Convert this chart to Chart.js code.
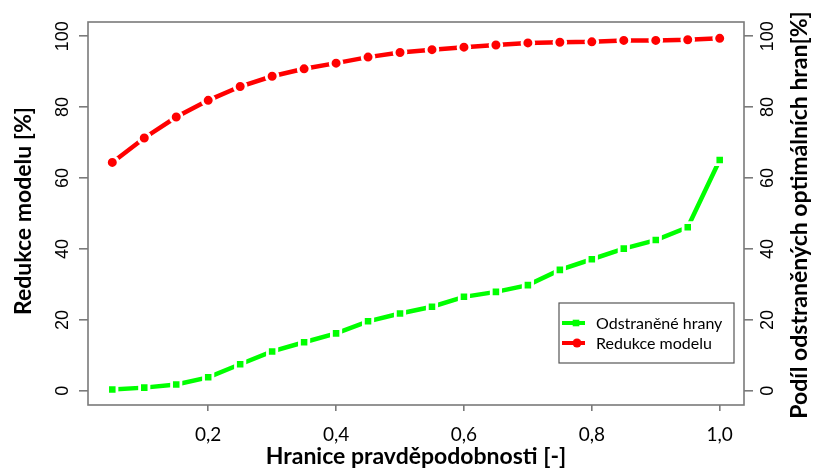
<!DOCTYPE html>
<html><head><meta charset="utf-8">
<script src="https://cdn.jsdelivr.net/npm/chart.js@4.4.0/dist/chart.umd.min.js"></script>
<style>html,body{margin:0;padding:0;background:#fff}#wrap{width:816px;height:469px}</style>
</head><body><div id="wrap"><canvas id="c" width="816" height="469"></canvas></div>
<script>
// ---- data ----
const thresholds = [0.05,0.10,0.15,0.20,0.25,0.30,0.35,0.40,0.45,0.50,0.55,0.60,0.65,0.70,0.75,0.80,0.85,0.90,0.95,1.00];
const edgesRemoved = [0.4,0.9,1.8,3.8,7.5,11.1,13.7,16.2,19.6,21.8,23.7,26.5,27.9,29.8,34.1,37.1,40.1,42.5,46.1,65.1];
const modelReduction = [64.4,71.3,77.2,81.9,85.8,88.7,90.8,92.4,94.1,95.4,96.2,96.9,97.5,98.1,98.3,98.4,98.8,98.8,99.0,99.4];
const xTickValues = [0.2,0.4,0.6,0.8,1.0];
const yTickValues = [0,20,40,60,80,100];
const seriesLabels = ['Odstraněné hrany','Redukce modelu'];
const seriesColors = ['#00ff00','#ff0000'];
const xTitle = 'Hranice pravděpodobnosti [-]';
const yLeftTitle = 'Redukce modelu [%]';
const yRightTitle = 'Podíl odstraněných optimálních hran[%]';

const AXIS_GRAY = '#7a7a7a';
const tickFontY = {family:'"Liberation Sans", Arial, sans-serif', size:18};
const tickFontX = {family:'Lato, "Open Sans", sans-serif', size:19};

const framePlugin = {
  id:'frameAndText',
  afterDraw(chart){
    const ctx = chart.ctx, a = chart.chartArea;
    ctx.save();
    ctx.strokeStyle = AXIS_GRAY; ctx.lineWidth = 1.6;
    ctx.strokeRect(a.left, a.top, a.right - a.left, a.bottom - a.top);
    // titles
    ctx.fillStyle = '#000';
    ctx.font = 'bold 23px Lato, "Open Sans", sans-serif';
    ctx.textAlign = 'center'; ctx.textBaseline = 'middle';
    ctx.fillText(xTitle, 416, 457);
    ctx.save(); ctx.translate(24, 211); ctx.rotate(-Math.PI/2);
    ctx.fillText(yLeftTitle, 0, 0); ctx.restore();
    ctx.save(); ctx.translate(800, 215); ctx.rotate(-Math.PI/2);
    ctx.fillText(yRightTitle, 0, 0); ctx.restore();
    // legend
    const lx = 559, ly = 303, lw = 175, lh = 60;
    ctx.strokeStyle = '#555'; ctx.lineWidth = 1.2;
    ctx.strokeRect(lx, ly, lw, lh);
    ctx.font = '16px Lato, "Open Sans", sans-serif';
    ctx.textAlign = 'left';
    chart.data.datasets.forEach((ds, i) => {
      const y = 323 + i*20;
      ctx.strokeStyle = ds.borderColor; ctx.lineWidth = 4;
      ctx.beginPath(); ctx.moveTo(562, y); ctx.lineTo(585, y); ctx.stroke();
      ctx.fillStyle = ds.borderColor;
      ctx.beginPath();
      if (ds.pointStyle === 'rect') ctx.rect(576-3.3, y-3.3, 6.6, 6.6);
      else ctx.arc(577, y, 4.5, 0, Math.PI*2);
      ctx.fill();
      ctx.fillStyle = '#000';
      ctx.fillText(ds.label, 596, y + 1);
    });
    ctx.restore();
  }
};

const fixTicks = vals => s => { s.ticks = vals.map(v => ({value:v})); };

new Chart(document.getElementById('c'), {
  type:'line',
  data:{
    datasets:[
      {label:seriesLabels[0], yAxisID:'y2', data:thresholds.map((x,i)=>({x, y:edgesRemoved[i]})),
       borderColor:seriesColors[0], backgroundColor:seriesColors[0], borderWidth:4.5,
       pointStyle:'rect', pointRadius:6.6, pointBorderWidth:2.8,
       pointBackgroundColor:seriesColors[0], pointBorderColor:'#ffffff', tension:0},
      {label:seriesLabels[1], yAxisID:'y', data:thresholds.map((x,i)=>({x, y:modelReduction[i]})),
       borderColor:seriesColors[1], backgroundColor:seriesColors[1], borderWidth:4.5,
       pointStyle:'circle', pointRadius:5.9, pointBorderWidth:2.8,
       pointBackgroundColor:seriesColors[1], pointBorderColor:'#ffffff', tension:0}
    ]
  },
  options:{
    responsive:false, animation:false, devicePixelRatio:1,
    layout:{padding:{top:22, left:0, right:0, bottom:0}},
    plugins:{legend:{display:false}, tooltip:{enabled:false}},
    scales:{
      x:{type:'linear', min:0.012, max:1.038, afterBuildTicks:fixTicks(xTickValues),
         afterFit:s=>{s.height = 64;},
         ticks:{callback:v=>v.toFixed(1).replace('.',','), font:tickFontX, color:'#000', padding:12, maxRotation:0, autoSkip:false},
         grid:{drawOnChartArea:false, drawTicks:true, tickLength:6, color:AXIS_GRAY, lineWidth:1.6},
         border:{display:false}},
      y:{type:'linear', position:'left', min:-4, max:104, afterBuildTicks:fixTicks(yTickValues),
         afterFit:s=>{s.width = 88;},
         ticks:{font:tickFontY, color:'#000', minRotation:90, maxRotation:90, crossAlign:'center', padding:1, autoSkip:false},
         grid:{drawOnChartArea:false, drawTicks:true, tickLength:9, color:AXIS_GRAY, lineWidth:1.6},
         border:{display:false}},
      y2:{type:'linear', position:'right', min:-4, max:104, afterBuildTicks:fixTicks(yTickValues),
         afterFit:s=>{s.width = 72;},
         ticks:{font:tickFontY, color:'#000', minRotation:90, maxRotation:90, crossAlign:'center', padding:0, autoSkip:false},
         grid:{drawOnChartArea:false, drawTicks:true, tickLength:9, color:AXIS_GRAY, lineWidth:1.6},
         border:{display:false}}
    }
  },
  plugins:[framePlugin]
});
</script></body></html>
